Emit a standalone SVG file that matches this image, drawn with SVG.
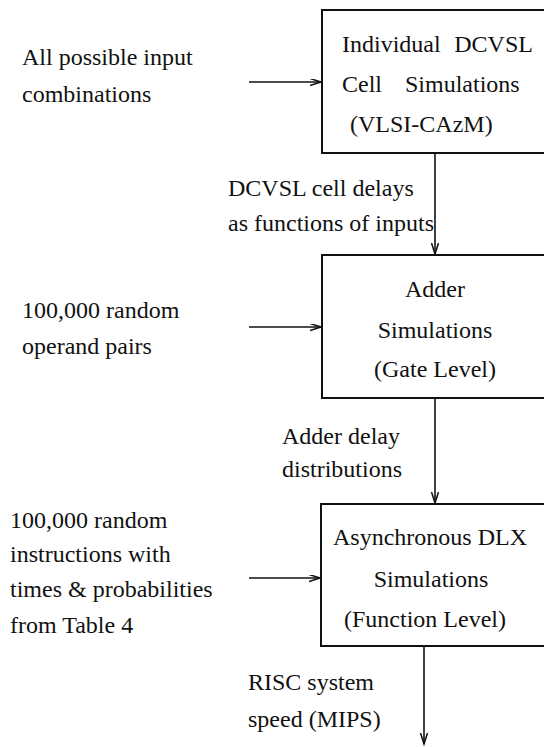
<svg xmlns="http://www.w3.org/2000/svg" width="544" height="747" viewBox="0 0 544 747">
<style>
text { font-family: "Liberation Serif", "Times New Roman", serif; font-size: 24px; fill: #111; }
.box { fill: #fff; stroke: #111; stroke-width: 2; }
.conn { stroke: #111; stroke-width: 1.6; fill: none; marker-end: url(#arr); }
.mid { text-anchor: middle; }
</style>
<defs>
<marker id="arr" markerUnits="userSpaceOnUse" markerWidth="14" markerHeight="10" refX="11" refY="3.5" orient="auto">
<path d="M0,0 L11,3.5 L0,7" fill="none" stroke="#111" stroke-width="1.5"/>
</marker>
</defs>
<rect width="544" height="747" fill="#fff"/>
<g id="connectors">
<line class="conn" x1="249" y1="82" x2="321" y2="82"/>
<line class="conn" x1="435" y1="153" x2="435" y2="254"/>
<line class="conn" x1="249" y1="327" x2="321" y2="327"/>
<line class="conn" x1="435" y1="398" x2="435" y2="503"/>
<line class="conn" x1="249" y1="578" x2="320" y2="578"/>
<line class="conn" x1="424" y1="646" x2="424" y2="744"/>
</g>
<g id="node1">
<rect class="box" x="322" y="10" width="240" height="143"/>
<text x="342" y="52" word-spacing="7.6">Individual DCVSL</text>
<text x="342" y="92" word-spacing="17">Cell Simulations</text>
<text x="350" y="132">(VLSI-CAzM)</text>
</g>
<g id="node2">
<rect class="box" x="322" y="255" width="240" height="143"/>
<text class="mid" x="435" y="297">Adder</text>
<text class="mid" x="435" y="338">Simulations</text>
<text class="mid" x="435" y="377">(Gate Level)</text>
</g>
<g id="node3">
<rect class="box" x="321" y="504" width="240" height="142"/>
<text x="333" y="545">Asynchronous DLX</text>
<text class="mid" x="431" y="587">Simulations</text>
<text class="mid" x="425" y="627">(Function Level)</text>
</g>
<g id="labels">
<text x="22" y="65">All possible input</text>
<text x="22" y="102">combinations</text>
<text x="228" y="196">DCVSL cell delays</text>
<text x="228" y="231">as functions of inputs</text>
<text x="22" y="318">100,000 random</text>
<text x="22" y="354">operand pairs</text>
<text x="282" y="444">Adder delay</text>
<text x="282" y="477">distributions</text>
<text x="10" y="528">100,000 random</text>
<text x="10" y="562">instructions with</text>
<text x="10" y="597">times &amp; probabilities</text>
<text x="10" y="633">from Table 4</text>
<text x="248" y="690">RISC system</text>
<text x="248" y="727">speed (MIPS)</text>
</g>
</svg>
